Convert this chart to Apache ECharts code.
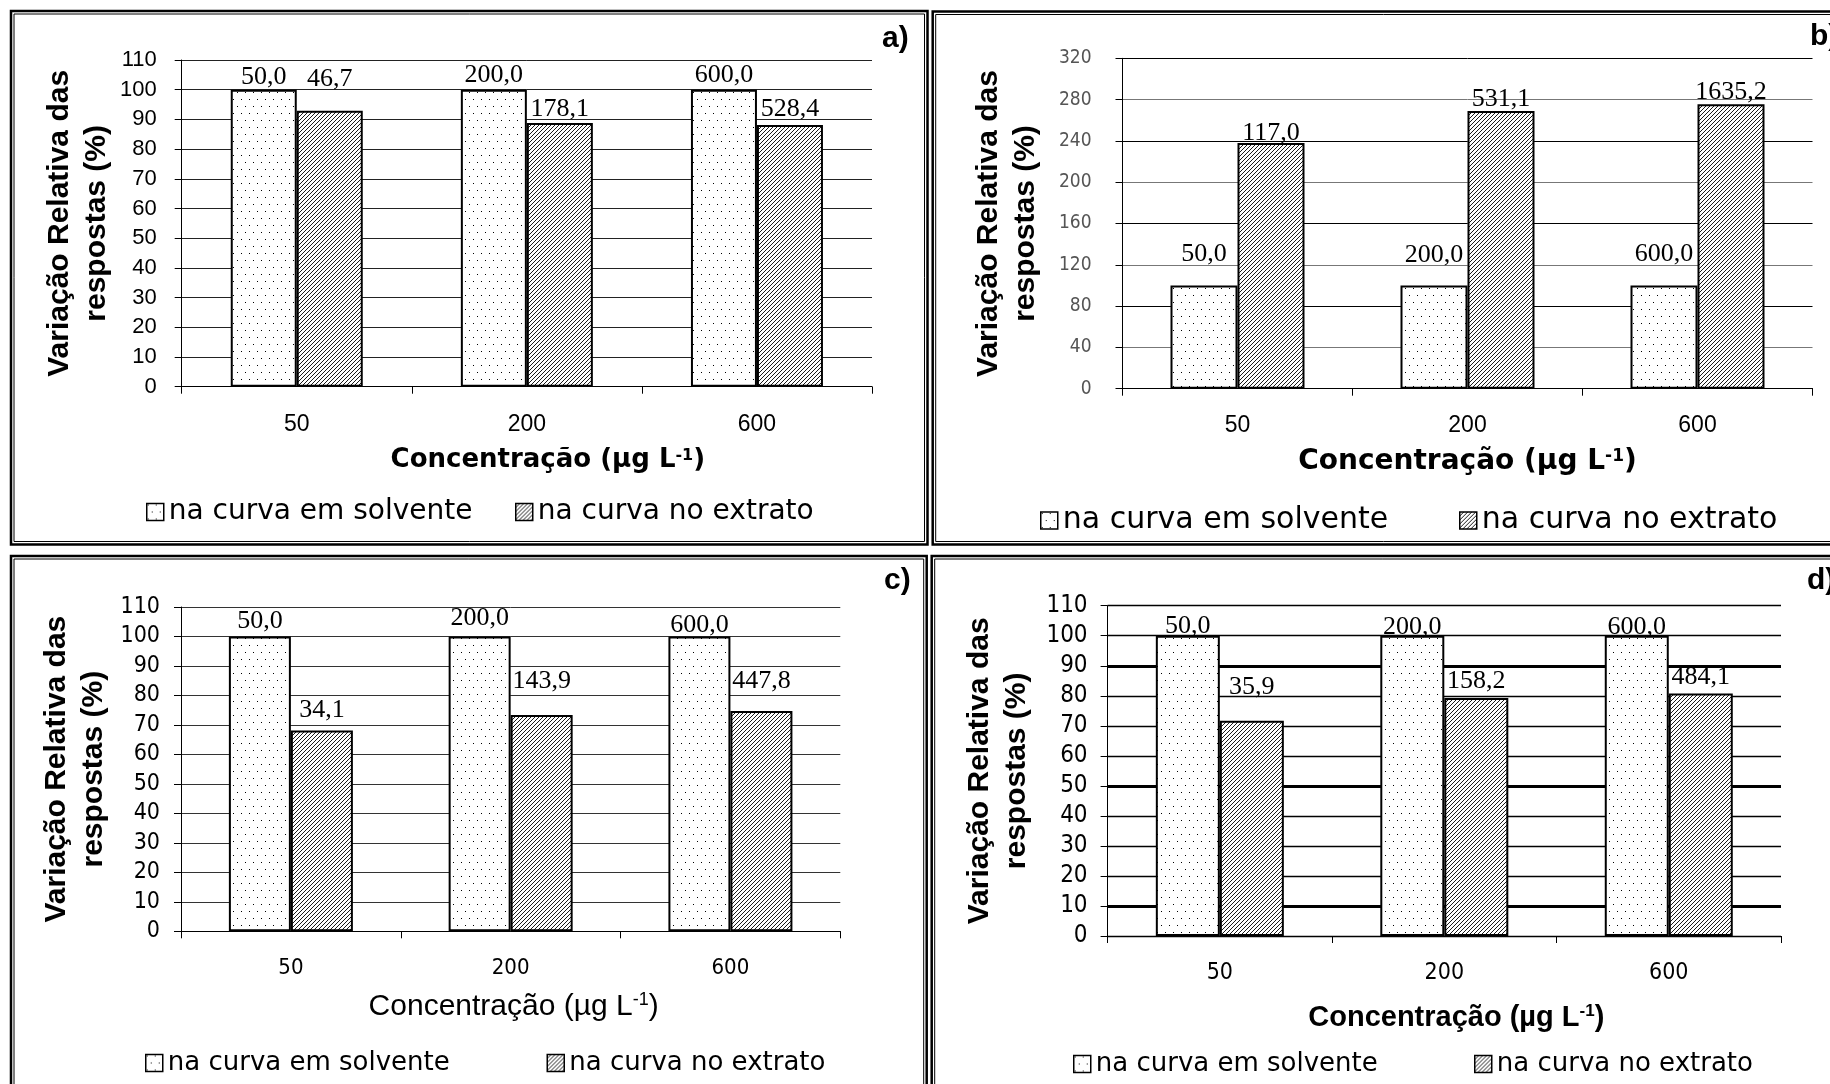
<!DOCTYPE html>
<html>
<head>
<meta charset="UTF-8">
<title>Variação Relativa das respostas</title>
<script src="https://cdn.jsdelivr.net/npm/echarts@6/dist/echarts.min.js"></script>
<style>
    html, body { margin: 0; padding: 0; background: #fff; }
    #main { width: 1830px; height: 1084px; }
</style>
</head>
<body>
<div id="main"></div>
<script type="text/javascript">
    // concentrações (µg L-1) e nomes das séries
    var categorias = ['50', '200', '600'];
    var serieNomes = ['na curva em solvente', 'na curva no extrato'];

    // a)
    var solventeA = [100, 100, 100];
    var extratoA = [92.9, 88.8, 88.1];
    var rotSolventeA = ['50,0', '200,0', '600,0'];
    var rotExtratoA = ['46,7', '178,1', '528,4'];
    // b)
    var solventeB = [100, 100, 100];
    var extratoB = [238, 269, 275.5];
    var rotSolventeB = ['50,0', '200,0', '600,0'];
    var rotExtratoB = ['117,0', '531,1', '1635,2'];
    // c)
    var solventeC = [100, 100, 100];
    var extratoC = [68.1, 73.4, 74.7];
    var rotSolventeC = ['50,0', '200,0', '600,0'];
    var rotExtratoC = ['34,1', '143,9', '447,8'];
    // d)
    var solventeD = [100, 100, 100];
    var extratoD = [71.7, 79.3, 80.8];
    var rotSolventeD = ['50,0', '200,0', '600,0'];
    var rotExtratoD = ['35,9', '158,2', '484,1'];

    // escalas do eixo y
    var escalaACD = {min: 0, max: 110, interval: 10};
    var escalaB = {min: 0, max: 320, interval: 40};
    var linhasGrossasD = [10, 50, 90];

    var fSans = "'Liberation Sans', Arial, sans-serif";
    var fNarrow = "'Liberation Sans Narrow', 'Arial Narrow', 'DejaVu Sans Condensed', 'Liberation Sans', sans-serif";
    var fSerif = "'Liberation Serif', 'Times New Roman', serif";
    var fWide = "'DejaVu Sans', 'Liberation Sans', sans-serif";

    // padrões de preenchimento (pontilhado e hachurado)
    function padraoPontos() {
        var c = document.createElement('canvas');
        c.width = 8; c.height = 14;
        var g = c.getContext('2d');
        g.fillStyle = '#fff'; g.fillRect(0, 0, 8, 14);
        g.fillStyle = '#000';
        g.fillRect(1, 1, 1, 1);
        g.fillRect(5, 8, 1, 1);
        return {image: c, repeat: 'repeat'};
    }
    function padraoHachura() {
        var n = 4;
        var c = document.createElement('canvas');
        c.width = n; c.height = n;
        var g = c.getContext('2d');
        g.fillStyle = '#fff'; g.fillRect(0, 0, n, n);
        g.strokeStyle = '#000';
        g.lineWidth = 0.9;
        [-n, 0, n].forEach(function (o) {
            g.beginPath();
            g.moveTo(o - 1, n + 1);
            g.lineTo(o + n + 1, -1);
            g.stroke();
        });
        return {image: c, repeat: 'repeat'};
    }
    var corSolvente = padraoPontos();
    var corExtrato = padraoHachura();

    var paineis = [
        {
            letra: 'a)', letraX: 882, letraY: 39, moldura: [11, 11, 916.5, 533.5],
            grid: {left: 181.7, top: 60, width: 690.3, height: 326.7},
            escala: escalaACD, s: solventeA, e: extratoA, rs: rotSolventeA, re: rotExtratoA,
            distS: [0, 2, 2], distE: [18.5, 1, 3], barra: 66,
            yFonte: {fontFamily: fSans, fontSize: 22}, yCor: '#000', yMargem: 25,
            xFonte: {fontFamily: fSans, fontSize: 23}, xMargem: 26,
            xTitulo: {fontFamily: fWide, fontWeight: 'bold', fontSize: 26}, xGap: 61, xPad: 42,
            yGap: 66, grade: ['#222'], gradeLarg: 1,
            leg: {y: 512, x1: 146, x2: 515, fonte: fWide, tam: 28}
        },
        {
            letra: 'b)', letraX: 1810, letraY: 37, moldura: [932.7, 11.5, 1000, 533],
            grid: {left: 1122.5, top: 58.3, width: 690, height: 330.4},
            escala: escalaB, s: solventeB, e: extratoB, rs: rotSolventeB, re: rotExtratoB,
            distS: [18.5, 17.5, 18.5], distE: [-3, -1, -0.5], barra: 67,
            yFonte: {fontFamily: fNarrow, fontSize: 19}, yCor: '#555', yMargem: 31,
            xFonte: {fontFamily: fSans, fontSize: 23}, xMargem: 25,
            xTitulo: {fontFamily: fWide, fontWeight: 'bold', fontSize: 28}, xGap: 59, xPad: 0,
            yGap: 78, grade: ['#000', '#777'], gradeLarg: 1,
            leg: {y: 520.5, x1: 1040, x2: 1459, fonte: fWide, tam: 30}
        },
        {
            letra: 'c)', letraX: 884, letraY: 581, moldura: [11, 556, 915.7, 600],
            grid: {left: 181, top: 607, width: 659.3, height: 324.3},
            escala: escalaACD, s: solventeC, e: extratoC, rs: rotSolventeC, re: rotExtratoC,
            distS: [2, 5, -1.5], distE: [7, 21, 17], barra: 62,
            yFonte: {fontFamily: fNarrow, fontSize: 23}, yCor: '#000', yMargem: 21,
            xFonte: {fontFamily: fNarrow, fontSize: 22}, xMargem: 26,
            xTitulo: {fontFamily: fSans, fontWeight: 'normal', fontSize: 30}, xGap: 60, xPad: 6,
            yGap: 69, grade: ['#333'], gradeLarg: 1,
            leg: {y: 1063, x1: 145, x2: 546.5, fonte: fWide, tam: 26}
        },
        {
            letra: 'd)', letraX: 1807, letraY: 581, moldura: [931.7, 556, 1000, 600],
            grid: {left: 1107.6, top: 605.7, width: 673.4, height: 330.3},
            escala: escalaACD, s: solventeD, e: extratoD, rs: rotSolventeD, re: rotExtratoD,
            distS: [-3, -4, -4], distE: [21, 4, 3.5], barra: 64,
            yFonte: {fontFamily: fNarrow, fontSize: 24}, yCor: '#000', yMargem: 20,
            xFonte: {fontFamily: fNarrow, fontSize: 23}, xMargem: 26,
            xTitulo: {fontFamily: fSans, fontWeight: 'bold', fontSize: 29}, xGap: 67, xPad: 24,
            yGap: 72, grade: ['#000'], gradeLarg: 1.4,
            leg: {y: 1064, x1: 1073, x2: 1474, fonte: fWide, tam: 26}
        }
    ];

    var grids = [], xAxes = [], yAxes = [], series = [], legends = [], graficos = [];

    paineis.forEach(function (p, i) {
        var m = p.moldura;
        graficos.push({type: 'rect', silent: true, shape: {x: m[0], y: m[1], width: m[2], height: m[3]},
            style: {fill: null, stroke: '#000', lineWidth: 2.5}});
        graficos.push({type: 'rect', silent: true, shape: {x: m[0] + 3, y: m[1] + 3, width: m[2] - 6, height: m[3] - 6},
            style: {fill: null, stroke: '#000', lineWidth: 1}});
        graficos.push({type: 'text', silent: true, x: p.letraX, y: p.letraY,
            style: {text: p.letra, font: 'bold 30px ' + fSans, fill: '#000', verticalAlign: 'middle'}});

        grids.push(p.grid);

        xAxes.push({
            gridIndex: i, type: 'category', data: categorias,
            axisLine: {lineStyle: {color: '#000', width: 1}},
            axisTick: {show: true, length: 7, lineStyle: {color: '#000'}},
            axisLabel: Object.assign({color: '#000', margin: p.xMargem}, p.xFonte),
            name: 'Concentração (µg L{sup|-1})',
            nameLocation: 'middle', nameGap: p.xGap,
            nameTextStyle: Object.assign({color: '#000', padding: [0, 0, 0, p.xPad],
                rich: {sup: {fontSize: Math.round(p.xTitulo.fontSize * 0.6), fontFamily: p.xTitulo.fontFamily,
                    fontWeight: p.xTitulo.fontWeight, verticalAlign: 'top', color: '#000'}}}, p.xTitulo)
        });

        yAxes.push({
            gridIndex: i, type: 'value',
            min: p.escala.min, max: p.escala.max, interval: p.escala.interval,
            axisLine: {show: true, lineStyle: {color: '#000', width: 1}},
            axisTick: {show: true, length: 7, lineStyle: {color: '#000'}},
            axisLabel: Object.assign({color: p.yCor, margin: p.yMargem}, p.yFonte),
            splitLine: {show: true, lineStyle: {color: p.grade, width: p.gradeLarg}},
            name: 'Variação Relativa das\nrespostas (%)',
            nameLocation: 'middle', nameRotate: 90, nameGap: p.yGap,
            nameTextStyle: {fontFamily: fSans, fontWeight: 'bold', fontSize: 30, lineHeight: 37, color: '#000'}
        });

        var pares = [[p.s, p.rs, p.distS, corSolvente], [p.e, p.re, p.distE, corExtrato]];
        pares.forEach(function (par, k) {
            var rotulos = par[1];
            var serie = {
                name: serieNomes[k], type: 'bar',
                xAxisIndex: i, yAxisIndex: i,
                barWidth: p.barra, barGap: '0%',
                itemStyle: {color: par[3], borderColor: '#000', borderWidth: 2},
                label: {
                    show: true, position: 'top', color: '#000',
                    fontFamily: fSerif, fontSize: 26,
                    formatter: function (d) { return rotulos[d.dataIndex]; }
                },
                data: par[0].map(function (v, j) {
                    return {value: v, label: {distance: par[2][j]}};
                })
            };
            if (i === 3 && k === 1) {
                serie.markLine = {
                    silent: true, symbol: 'none', z: 1, animation: false,
                    label: {show: false},
                    lineStyle: {color: '#000', width: 2.8, type: 'solid'},
                    data: linhasGrossasD.map(function (v) { return {yAxis: v}; })
                };
            }
            series.push(serie);
        });

        [p.leg.x1, p.leg.x2].forEach(function (lx, k) {
            legends.push({
                data: [serieNomes[k]], left: lx, top: p.leg.y - p.leg.tam / 2,
                padding: 0, icon: 'rect', itemWidth: 17, itemHeight: 17, itemGap: 0,
                selectedMode: false,
                itemStyle: {borderColor: '#000', borderWidth: 1.5},
                textStyle: {fontFamily: p.leg.fonte, fontSize: p.leg.tam, color: '#000'}
            });
        });
    });

    var chart = echarts.init(document.getElementById('main'));
    chart.setOption({
        animation: false,
        backgroundColor: '#fff',
        grid: grids,
        xAxis: xAxes,
        yAxis: yAxes,
        legend: legends,
        graphic: graficos,
        series: series
    });
</script>
</body>
</html>
